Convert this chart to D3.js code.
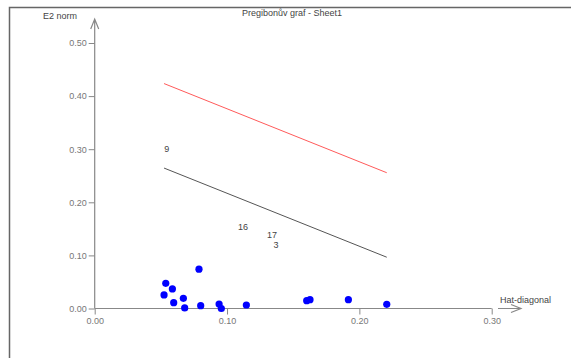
<html>
  <head>
    <title>Pregibonův graf</title>
    <script src="https://d3js.org/d3.v7.min.js"></script>
    <style>
      body { margin: 0; background: #fff; }
      text { font-family: "Liberation Sans", Arial, sans-serif; }
    </style>
  </head>
  <body>
    <script>
      const w = 571;
      const h = 358;

      // hat-diagonal (x) and E2 norm (y) of the points
      const hatDiag = [0.0524, 0.0537, 0.0587, 0.0597, 0.067, 0.068, 0.0788, 0.0801,
        0.094, 0.0957, 0.1146, 0.1602, 0.1627, 0.1917, 0.2207];
      const e2Norm = [0.0255, 0.0475, 0.0368, 0.011, 0.0192, 0.001, 0.074, 0.0053,
        0.0085, 0.0, 0.0066, 0.0147, 0.0166, 0.0166, 0.0079];

      // the two cut-off lines
      const redLine = [[0.0524, 0.4236], [0.2207, 0.2557]];
      const greyLine = [[0.0524, 0.2645], [0.2207, 0.0966]];

      // point labels
      const labelText = ["9", "16", "17", "3"];
      const labelX = [0.0544, 0.112, 0.134, 0.137];
      const labelY = [0.301, 0.154, 0.139, 0.119];

      const xTicks = [0, 0.1, 0.2, 0.3];
      const yTicks = [0, 0.1, 0.2, 0.3, 0.4, 0.5];

      const xScale = d3.scaleLinear().domain([0, 0.3]).range([94.7, 491.7]);
      const yScale = d3.scaleLinear().domain([0, 0.5]).range([308.5, 43]);

      const svg = d3.select("body").append("svg")
        .attr("width", w)
        .attr("height", h);

      // frame
      svg.append("path")
        .attr("d", "M9.5," + h + "V7.5H" + w)
        .attr("fill", "none")
        .attr("stroke", "#666")
        .attr("stroke-width", 1.5);

      svg.append("text")
        .attr("x", 292)
        .attr("y", 16)
        .attr("text-anchor", "middle")
        .attr("font-size", 9)
        .attr("fill", "#444")
        .text("Pregibonův graf - Sheet1");

      // y axis
      const yAxis = d3.axisLeft(yScale).tickValues(yTicks).tickFormat(d3.format(".2f")).tickSize(6).tickSizeOuter(0);
      const gy = svg.append("g")
        .attr("transform", "translate(" + xScale(0) + ",0)")
        .call(yAxis);
      gy.select(".domain").remove();
      gy.selectAll("line").attr("stroke", "#888");
      gy.selectAll("text").attr("fill", "#777").attr("font-size", 9)
        .attr("font-family", "Liberation Sans, Arial, sans-serif").attr("x", -8);

      svg.append("path")
        .attr("d", "M" + xScale(0) + "," + yScale(0) + "V19M" + (xScale(0) - 4) + ",29L" + xScale(0) + ",19L" + (xScale(0) + 4) + ",29")
        .attr("fill", "none")
        .attr("stroke", "#888")
        .attr("stroke-width", 1.2);

      svg.append("text")
        .attr("x", 77)
        .attr("y", 19)
        .attr("text-anchor", "end")
        .attr("font-size", 9)
        .attr("fill", "#444")
        .text("E2 norm");

      // x axis
      const xAxis = d3.axisBottom(xScale).tickValues(xTicks).tickFormat(d3.format(".2f")).tickSize(6).tickSizeOuter(0);
      const gx = svg.append("g")
        .attr("transform", "translate(0," + yScale(0) + ")")
        .call(xAxis);
      gx.select(".domain").remove();
      gx.selectAll("line").attr("stroke", "#888");
      gx.selectAll("text").attr("fill", "#777").attr("font-size", 9)
        .attr("font-family", "Liberation Sans, Arial, sans-serif").attr("y", 9);

      svg.append("line")
        .attr("x1", xScale(0)).attr("x2", xScale(0.3))
        .attr("y1", yScale(0)).attr("y2", yScale(0))
        .attr("stroke", "#888").attr("stroke-width", 1.2);

      const ay = yScale(0);
      svg.append("path")
        .attr("d", "M498," + ay + "H521M511," + (ay - 4) + "L521," + ay + "L511," + (ay + 4))
        .attr("fill", "none")
        .attr("stroke", "#888")
        .attr("stroke-width", 1.2);

      svg.append("text")
        .attr("x", 500)
        .attr("y", 303)
        .attr("font-size", 9)
        .attr("fill", "#444")
        .text("Hat-diagonal");

      // lines
      const line = d3.line().x(d => xScale(d[0])).y(d => yScale(d[1]));
      svg.append("path").attr("d", line(redLine))
        .attr("fill", "none").attr("stroke", "#ff5a5a").attr("stroke-width", 1);
      svg.append("path").attr("d", line(greyLine))
        .attr("fill", "none").attr("stroke", "#555").attr("stroke-width", 1);

      // labels
      svg.selectAll(".lbl")
        .data(labelText)
        .enter()
        .append("text")
        .attr("x", (d, i) => xScale(labelX[i]))
        .attr("y", (d, i) => yScale(labelY[i]) + 3)
        .attr("text-anchor", "middle")
        .attr("font-size", 9)
        .attr("fill", "#444")
        .text(d => d);

      // points
      svg.selectAll("circle")
        .data(hatDiag)
        .enter()
        .append("circle")
        .attr("cx", d => xScale(d))
        .attr("cy", (d, i) => yScale(e2Norm[i]))
        .attr("r", 3.6)
        .attr("fill", "#0000ff");
    </script>
  </body>
</html>
